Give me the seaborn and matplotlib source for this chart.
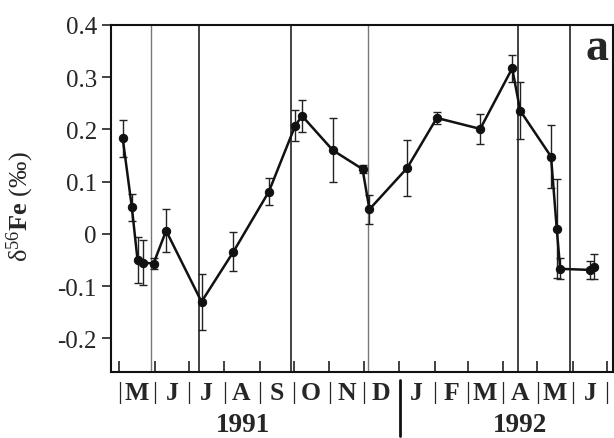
import matplotlib
matplotlib.use("Agg")
import matplotlib.pyplot as plt
import matplotlib.dates as mdates
import matplotlib.transforms as mtrans
import matplotlib.lines as mlines
import seaborn as sns
import pandas as pd
import numpy as np

# ---- data ----
dates = ['1991-05-04', '1991-05-12', '1991-05-17', '1991-05-22', '1991-05-31',
         '1991-06-11', '1991-07-12', '1991-08-09', '1991-09-09', '1991-10-02',
         '1991-10-08', '1991-11-04', '1991-11-30', '1991-12-06', '1992-01-08',
         '1992-02-03', '1992-03-12', '1992-04-09', '1992-04-16', '1992-05-13',
         '1992-05-18', '1992-05-21', '1992-06-16', '1992-06-20']
d56fe = [0.183, 0.051, -0.050, -0.055, -0.057, 0.006, -0.130, -0.034, 0.081,
         0.207, 0.226, 0.160, 0.124, 0.047, 0.126, 0.222, 0.201, 0.317, 0.236,
         0.148, 0.010, -0.067, -0.069, -0.063]
err = [0.036, 0.026, 0.044, 0.043, 0.011, 0.041, 0.054, 0.038, 0.026, 0.030,
       0.031, 0.061, 0.008, 0.028, 0.053, 0.012, 0.028, 0.026, 0.055, 0.060,
       0.095, 0.020, 0.017, 0.024]

vlines_gray = ['1991-05-29', '1991-12-05']
vlines_dark = ['1991-07-10', '1991-09-28', '1992-04-14', '1992-05-30']

month_starts = pd.date_range('1991-05-01', '1992-07-01', freq='MS')
month_letters = ['M', 'J', 'J', 'A', 'S', 'O', 'N', 'D', 'J', 'F', 'M', 'A', 'M', 'J']
ytick_vals = [-0.2, -0.1, 0, 0.1, 0.2, 0.3, 0.4]
ytick_labels = ['-0.2', '-0.1', '0', '0.1', '0.2', '0.3', '0.4']
years = ['1991', '1992']
year_pos = ['1991-08-17', '1992-04-16']
year_sep = '1992-01-02'

df = pd.DataFrame({'date': pd.to_datetime(dates), 'd56fe': d56fe, 'err': err})

sns.set_style('ticks')
plt.rcParams['font.family'] = ['Liberation Serif', 'DejaVu Serif']
plt.rcParams['mathtext.fontset'] = 'custom'
plt.rcParams['mathtext.rm'] = 'Liberation Serif'
plt.rcParams['mathtext.it'] = 'Liberation Serif:italic'
plt.rcParams['mathtext.bf'] = 'Liberation Serif:bold'

fig = plt.figure(figsize=(6.14, 4.39), dpi=100)
ax = fig.add_axes([0.1803, 0.151, 0.8176, 0.7898])

for d in vlines_gray:
    ax.axvline(pd.Timestamp(d), color='#777777', lw=1.0, zorder=1)
for d in vlines_dark:
    ax.axvline(pd.Timestamp(d), color='#222222', lw=1.2, zorder=1)

ax.errorbar(df['date'], df['d56fe'], yerr=df['err'], fmt='none',
            ecolor='#222222', elinewidth=1.0, capsize=3, capthick=1.0, zorder=2)
sns.lineplot(data=df, x='date', y='d56fe', ax=ax, sort=False, color='#111111',
             lw=1.8, marker='o', markersize=6, markeredgecolor='#111111',
             markerfacecolor='#111111', zorder=3)

ax.set_xlim(pd.Timestamp('1991-04-23 12:00'), pd.Timestamp('1992-07-06'))
ax.set_ylim(-0.264, 0.4)

ax.set_yticks(ytick_vals)
ax.set_yticklabels(ytick_labels, fontsize=18)
ax.tick_params(axis='y', direction='out', length=6.5, width=1.2, pad=3.5, color='#222222')

# x axis: month boundaries with '|' separators, letters at mid-month
ax.set_xticks(month_starts)
major_labels = ['' if m == pd.Timestamp(year_sep).replace(day=1) else '|' for m in month_starts]
ax.set_xticklabels(major_labels, fontsize=18)
mid = [m + pd.Timedelta(days=15) for m in month_starts[:-1]]
ax.set_xticks(mid, minor=True)
ax.set_xticklabels(month_letters, minor=True, fontsize=18.5, fontweight='bold')
ax.tick_params(axis='x', which='major', direction='in', length=8, width=1.2, pad=7, color='#222222')
ax.tick_params(axis='x', which='minor', length=0, pad=7)

for s in ax.spines.values():
    s.set_linewidth(1.5)
    s.set_color('#111111')

ax.set_xlabel('')
ax.set_ylabel(r'$\mathrm{δ}^{56}\mathbf{Fe}\ (\mathit{‰})$', fontsize=19)
ax.yaxis.set_label_coords(-0.148, 0.48)

trans = mtrans.blended_transform_factory(ax.transData, ax.transAxes)
for y, p in zip(years, year_pos):
    ax.text(pd.Timestamp(p), -0.172, y, transform=trans, ha='center', va='baseline',
            fontsize=19.5, fontweight='bold')
sep = mdates.date2num(pd.Timestamp(year_sep))
ax.add_line(mlines.Line2D([sep, sep], [-0.024, -0.185], transform=trans, color='#111111',
                          lw=2.0, clip_on=False))

ax.text(0.969, 0.902, 'a', transform=ax.transAxes, ha='center', va='baseline',
        fontsize=33, fontweight='bold')

fig.savefig('out.png', dpi=100)
